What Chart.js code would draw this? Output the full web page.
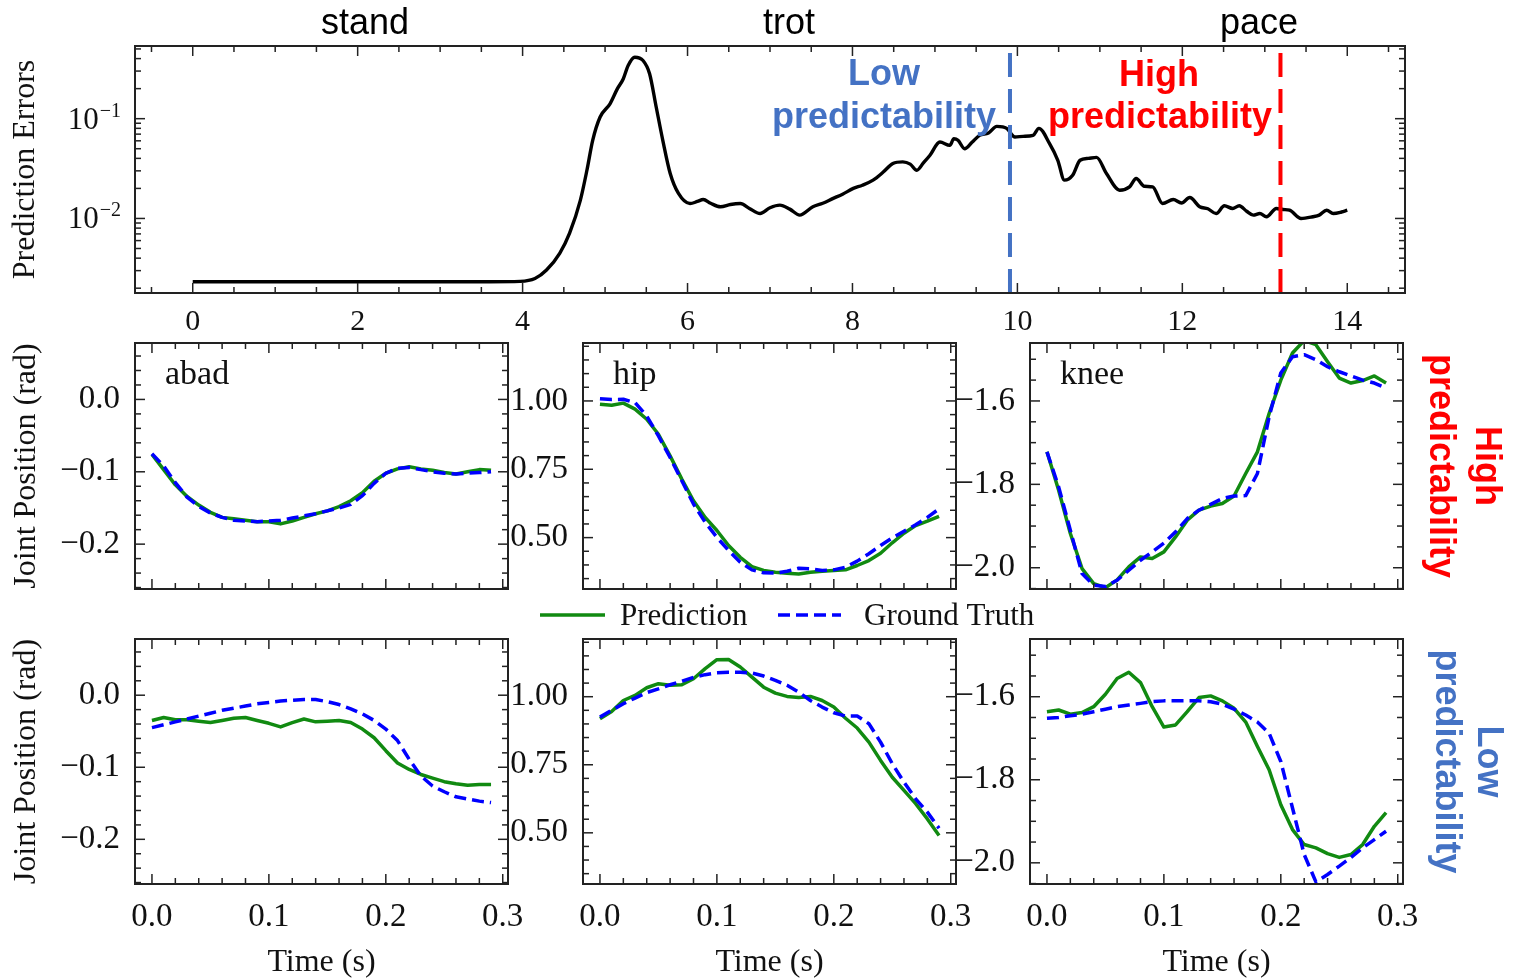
<!DOCTYPE html>
<html>
<head>
<meta charset="utf-8">
<script src="https://cdn.jsdelivr.net/npm/chart.js@4.4.1/dist/chart.umd.min.js"></script>
<style>
  html, body { margin: 0; padding: 0; background: #fff; }
  #fig { position: relative; width: 1524px; height: 979px; overflow: hidden; }
  #fig canvas { position: absolute; }
</style>
</head>
<body>
<div id="fig"></div>
<script>
const SERIF = "'Liberation Serif', 'Times New Roman', serif";
const SANS = "'Liberation Sans', Arial, sans-serif";
const INK = '#111';

// --- Panel superior: error de predicción a lo largo del recorrido ---
const errTime = [0, 1, 2, 3, 3.6, 3.97, 4.15, 4.29, 4.45, 4.57, 4.70, 4.78, 4.85, 4.94, 5.06, 5.15, 5.22, 5.28, 5.36,
  5.46, 5.54, 5.62, 5.70, 5.79, 5.89, 6.03, 6.12, 6.19, 6.28, 6.40, 6.52, 6.64, 6.75, 6.88, 7.0, 7.12, 7.24, 7.36,
  7.52, 7.64, 7.76, 7.88, 8.01, 8.12, 8.25, 8.37, 8.49, 8.61, 8.70, 8.78, 8.86, 8.94, 9.06, 9.18, 9.23, 9.28, 9.36,
  9.45, 9.54, 9.65, 9.75, 9.87, 9.97, 10.07, 10.19, 10.26, 10.39, 10.49, 10.57, 10.67, 10.76, 10.86, 10.96, 11.08,
  11.24, 11.36, 11.44, 11.54, 11.64, 11.76, 11.89, 11.99, 12.09, 12.21, 12.31, 12.41, 12.51, 12.61, 12.69, 12.78,
  12.86, 12.94, 13.02, 13.14, 13.22, 13.30, 13.44, 13.58, 13.66, 13.75, 13.83, 13.93, 14.0];
const errValue = [0.00232, 0.00232, 0.00232, 0.00232, 0.00232, 0.00234, 0.0025, 0.00304, 0.00447, 0.00713, 0.0152,
  0.0304, 0.0607, 0.104, 0.141, 0.2, 0.25, 0.341, 0.413, 0.383, 0.282, 0.131, 0.0607, 0.0282, 0.0178, 0.0141, 0.0148,
  0.0155, 0.0142, 0.0131, 0.0138, 0.0141, 0.0126, 0.0112, 0.0128, 0.0136, 0.0124, 0.0108, 0.0131, 0.0142, 0.0158,
  0.0175, 0.020, 0.0215, 0.0242, 0.029, 0.0355, 0.0369, 0.035, 0.0304, 0.036, 0.043, 0.0583, 0.054, 0.063, 0.0607,
  0.050, 0.058, 0.068, 0.072, 0.0838, 0.080, 0.0655, 0.0665, 0.068, 0.080, 0.0562, 0.0383, 0.0242, 0.0271, 0.0383,
  0.040, 0.0409, 0.0282, 0.0192, 0.0207, 0.0251, 0.021, 0.0207, 0.0141, 0.0155, 0.0143, 0.0162, 0.0131, 0.0125,
  0.0112, 0.0134, 0.0126, 0.0134, 0.0118, 0.0108, 0.0112, 0.0104, 0.0126, 0.0123, 0.0121, 0.0100, 0.0104, 0.0108,
  0.0121, 0.0112, 0.0116, 0.0121];
const errXTicks = [0, 2, 4, 6, 8, 10, 12, 14];
const errYTicks = [0.01, 0.1];
const errXMin = -0.7, errXMax = 14.7;
const errYMin = 0.00179, errYMax = 0.535;
const lowSwitchX = 9.91;   // inicio de baja predictibilidad
const highSwitchX = 13.19; // inicio de alta predictibilidad
const phaseNames = ['stand', 'trot', 'pace'];
const phaseCenters = [2.09, 7.23, 12.93];

// --- Paneles de articulaciones ---
const timeSteps = [0, 0.01, 0.02, 0.03, 0.04, 0.05, 0.06, 0.07, 0.08, 0.09, 0.10, 0.11, 0.12, 0.13, 0.14,
  0.15, 0.16, 0.17, 0.18, 0.19, 0.20, 0.21, 0.22, 0.23, 0.24, 0.25, 0.26, 0.27, 0.28, 0.29];
const timeTicks = [0, 0.1, 0.2, 0.3];
const abadTicks = [0, -0.1, -0.2];
const hipTicks = [1.0, 0.75, 0.5];
const kneeTicks = [-1.6, -1.8, -2.0];

const abadHighPred = [-0.076, -0.097, -0.118, -0.134, -0.146, -0.156, -0.163, -0.165, -0.167, -0.169, -0.169, -0.172,
  -0.168, -0.163, -0.158, -0.154, -0.148, -0.140, -0.129, -0.113, -0.102, -0.096, -0.093, -0.096, -0.098, -0.101,
  -0.103, -0.100, -0.097, -0.098];
const abadHighTrue = [-0.075, -0.092, -0.115, -0.135, -0.148, -0.157, -0.163, -0.167, -0.168, -0.169, -0.168, -0.167,
  -0.164, -0.161, -0.158, -0.154, -0.150, -0.145, -0.133, -0.116, -0.102, -0.095, -0.094, -0.097, -0.100, -0.102,
  -0.103, -0.102, -0.101, -0.100];
const hipHighPred = [0.988, 0.984, 0.992, 0.970, 0.933, 0.878, 0.799, 0.714, 0.635, 0.574, 0.526, 0.471, 0.428, 0.394,
  0.380, 0.373, 0.370, 0.367, 0.373, 0.377, 0.380, 0.382, 0.398, 0.416, 0.443, 0.481, 0.516, 0.544, 0.560, 0.578];
const hipHighTrue = [1.008, 1.005, 1.006, 0.994, 0.945, 0.872, 0.793, 0.708, 0.623, 0.556, 0.501, 0.453, 0.410, 0.382,
  0.371, 0.370, 0.377, 0.388, 0.386, 0.380, 0.382, 0.392, 0.414, 0.441, 0.471, 0.499, 0.523, 0.547, 0.574, 0.605];
const kneeHighPred = [-1.722, -1.814, -1.918, -2.002, -2.038, -2.048, -2.029, -1.998, -1.974, -1.978, -1.962, -1.926,
  -1.886, -1.862, -1.852, -1.846, -1.828, -1.774, -1.722, -1.630, -1.550, -1.485, -1.455, -1.465, -1.506, -1.545,
  -1.557, -1.551, -1.540, -1.557];
const kneeHighTrue = [-1.722, -1.806, -1.910, -2.014, -2.042, -2.045, -2.030, -2.006, -1.982, -1.962, -1.941, -1.914,
  -1.882, -1.862, -1.848, -1.834, -1.828, -1.827, -1.774, -1.638, -1.533, -1.494, -1.489, -1.501, -1.518, -1.530,
  -1.540, -1.550, -1.557, -1.569];

const abadLowPred = [-0.035, -0.031, -0.034, -0.034, -0.036, -0.038, -0.035, -0.032, -0.031, -0.035, -0.039, -0.044,
  -0.038, -0.033, -0.037, -0.036, -0.035, -0.038, -0.047, -0.059, -0.077, -0.094, -0.103, -0.110, -0.115, -0.120,
  -0.123, -0.125, -0.124, -0.124];
const abadLowTrue = [-0.045, -0.041, -0.037, -0.033, -0.029, -0.025, -0.021, -0.018, -0.015, -0.012, -0.010, -0.008,
  -0.007, -0.006, -0.006, -0.009, -0.013, -0.019, -0.026, -0.035, -0.047, -0.063, -0.089, -0.112, -0.126, -0.134,
  -0.141, -0.144, -0.147, -0.149];
const hipLowPred = [0.919, 0.946, 0.986, 1.005, 1.033, 1.048, 1.042, 1.044, 1.066, 1.103, 1.136, 1.137, 1.109, 1.072,
  1.035, 1.013, 1.001, 0.997, 1.001, 0.986, 0.962, 0.921, 0.885, 0.833, 0.766, 0.704, 0.656, 0.607, 0.551, 0.490];
const hipLowTrue = [0.925, 0.950, 0.974, 0.995, 1.015, 1.029, 1.044, 1.057, 1.071, 1.081, 1.088, 1.090, 1.090, 1.087,
  1.076, 1.060, 1.042, 1.017, 0.986, 0.962, 0.941, 0.929, 0.929, 0.901, 0.833, 0.754, 0.686, 0.625, 0.576, 0.517];
const kneeLowPred = [-1.636, -1.632, -1.642, -1.638, -1.624, -1.594, -1.556, -1.541, -1.566, -1.624, -1.673, -1.668,
  -1.636, -1.602, -1.598, -1.610, -1.628, -1.661, -1.720, -1.776, -1.860, -1.920, -1.956, -1.964, -1.978, -1.987,
  -1.980, -1.956, -1.912, -1.879];
const kneeLowTrue = [-1.652, -1.650, -1.646, -1.642, -1.636, -1.630, -1.624, -1.620, -1.616, -1.612, -1.610, -1.610,
  -1.610, -1.610, -1.612, -1.618, -1.630, -1.644, -1.661, -1.688, -1.756, -1.868, -1.980, -2.046, -2.028, -2.008,
  -1.987, -1.964, -1.944, -1.924];

const PRED_COLOR = '#118a11';
const TRUE_COLOR = '#0000ff';
const LOW_COLOR = '#4472c4';
const HIGH_COLOR = '#ff0000';
const LINE_W = 3.5;
const GT_DASH = [12, 6];

// Geometría de la figura (marcos de cada eje, en píxeles de página)
const cols = [
  { l: 135, r: 508, cl: 0, cr: 560 },
  { l: 583, r: 956, cl: 505, cr: 1060 },
  { l: 1030, r: 1403, cl: 952, cr: 1524 }
];
const rows = [
  { t: 343, b: 589, ct: 330, cb: 636 },
  { t: 639, b: 884, ct: 636, cb: 979 }
];

function addCanvas(left, top, width, height) {
  const c = document.createElement('canvas');
  c.width = width; c.height = height;
  c.style.left = left + 'px'; c.style.top = top + 'px';
  c.style.width = width + 'px'; c.style.height = height + 'px';
  document.getElementById('fig').appendChild(c);
  return c;
}

const signed = digits => v => (v < -1e-9 ? '\u2212' : '') + Math.abs(v).toFixed(digits);

function stepValues(min, max, step) {
  const out = [];
  for (let k = Math.ceil(min / step - 1e-9); k * step <= max + 1e-9; k++) out.push(k * step);
  return out;
}
const isMultiple = (v, step) => Math.abs(v / step - Math.round(v / step)) < 1e-6;

// marco cerrado con marcas hacia adentro en los cuatro lados
const framePlugin = {
  id: 'frame',
  afterDatasetsDraw(chart, args, o) {
    const { ctx, chartArea: a } = chart;
    const xs = chart.scales.x, ys = chart.scales.y;
    const seg = (x1, y1, x2, y2) => { ctx.beginPath(); ctx.moveTo(x1, y1); ctx.lineTo(x2, y2); ctx.stroke(); };
    ctx.save();
    ctx.strokeStyle = '#222';
    ctx.lineWidth = 1.5;
    stepValues(xs.min, xs.max, o.xMinor).forEach(v => {
      const len = isMultiple(v, o.xMajor) ? 10 : 6;
      const px = xs.getPixelForValue(v);
      seg(px, a.bottom, px, a.bottom - len);
      seg(px, a.top, px, a.top + len);
    });
    let yMarks = [];
    if (o.log) {
      for (let k = Math.floor(Math.log10(ys.min)); k <= Math.ceil(Math.log10(ys.max)); k++) {
        for (let m = 1; m <= 9; m++) {
          const v = m * Math.pow(10, k);
          if (v >= ys.min && v <= ys.max) yMarks.push([v, m === 1]);
        }
      }
    } else {
      yMarks = stepValues(ys.min, ys.max, o.yMinor).map(v => [v, isMultiple(v, o.yMajor)]);
    }
    yMarks.forEach(([v, major]) => {
      const py = ys.getPixelForValue(v);
      const len = major ? 10 : 6;
      seg(a.left, py, a.left + len, py);
      seg(a.right, py, a.right - len, py);
    });
    ctx.lineWidth = 2;
    ctx.strokeRect(a.left, a.top, a.right - a.left, a.bottom - a.top);
    ctx.restore();
  }
};

function drawText(ctx, text, x, y, font, color, align, angle) {
  ctx.save();
  ctx.translate(x, y);
  if (angle) ctx.rotate(angle);
  ctx.font = font;
  ctx.fillStyle = color;
  ctx.textAlign = align || 'left';
  ctx.textBaseline = 'alphabetic';
  ctx.fillText(text, 0, 0);
  ctx.restore();
}

// --- Gráfico superior ---
(function () {
  const canvas = addCanvas(0, 0, 1524, 345);
  const frame = { l: 135, t: 46, r: 1405, b: 293 };
  const notes = {
    id: 'notes',
    afterDraw(chart) {
      const { ctx, chartArea: a, scales: { x, y } } = chart;
      phaseNames.forEach((name, i) => {
        drawText(ctx, name, x.getPixelForValue(phaseCenters[i]), 34, `36px ${SANS}`, '#000', 'center');
      });
      drawText(ctx, 'Low', 884, 85, `bold 36px ${SANS}`, LOW_COLOR, 'center');
      drawText(ctx, 'predictability', 884, 128, `bold 36px ${SANS}`, LOW_COLOR, 'center');
      drawText(ctx, 'High', 1159, 86, `bold 36px ${SANS}`, HIGH_COLOR, 'center');
      drawText(ctx, 'predictability', 1160, 128, `bold 36px ${SANS}`, HIGH_COLOR, 'center');
      // etiquetas 10^k del eje logarítmico
      errYTicks.forEach(v => {
        const py = y.getPixelForValue(v);
        const exp = signed(0)(Math.round(Math.log10(v)));
        ctx.save();
        ctx.font = `20px ${SERIF}`;
        const ew = ctx.measureText(exp).width;
        ctx.restore();
        const right = a.left - 14;
        drawText(ctx, exp, right - ew, py - 2, `20px ${SERIF}`, INK, 'left');
        drawText(ctx, '10', right - ew - 1, py + 10, `31px ${SERIF}`, INK, 'right');
      });
    }
  };
  new Chart(canvas, {
    type: 'line',
    data: {
      datasets: [{
        data: errTime.map((t, i) => ({ x: t, y: errValue[i] })),
        borderColor: '#000', borderWidth: 3.4, cubicInterpolationMode: 'monotone', order: 2
      }, {
        data: [{ x: lowSwitchX, y: errYMin }, { x: lowSwitchX, y: errYMax }],
        borderColor: LOW_COLOR, borderWidth: 4, borderDash: [24, 12], order: 1
      }, {
        data: [{ x: highSwitchX, y: errYMin }, { x: highSwitchX, y: errYMax }],
        borderColor: HIGH_COLOR, borderWidth: 4, borderDash: [24, 12], order: 1
      }]
    },
    options: {
      responsive: false,
      animation: false,
      layout: { padding: { top: frame.t, right: 1524 - frame.r, left: 0, bottom: 0 }, autoPadding: false },
      elements: { point: { radius: 0 }, line: { borderJoinStyle: 'round' } },
      plugins: {
        legend: { display: false }, tooltip: { enabled: false },
        frame: { xMinor: 0.5, xMajor: 2, log: true }
      },
      scales: {
        x: {
          type: 'linear', min: errXMin, max: errXMax,
          grid: { display: false, drawTicks: false }, border: { display: false },
          afterBuildTicks: s => { s.ticks = errXTicks.map(v => ({ value: v })); },
          afterFit: s => { s.height = 345 - frame.b; s.paddingLeft = 0; s.paddingRight = 0; },
          ticks: { padding: 11, color: INK, font: { family: SERIF, size: 30 }, autoSkip: false, maxRotation: 0,
            callback: v => String(v) }
        },
        y: {
          type: 'logarithmic', min: errYMin, max: errYMax,
          grid: { display: false, drawTicks: false }, border: { display: false },
          ticks: { display: false },
          afterFit: s => { s.width = frame.l; s.paddingTop = 0; s.paddingBottom = 0; },
          title: { display: true, text: 'Prediction Errors', color: INK, font: { family: SERIF, size: 32 },
            padding: { top: 6, bottom: 0 } }
        }
      }
    },
    plugins: [framePlugin, notes]
  });
})();

// --- Paneles de posición articular ---
function jointPanel(row, col, spec) {
  const R = rows[row], C = cols[col];
  const canvas = addCanvas(C.cl, R.ct, C.cr - C.cl, R.cb - R.ct);
  const yW = C.l - C.cl, xH = R.cb - R.b;
  const notes = {
    id: 'notes',
    afterDraw(chart) {
      const { ctx, chartArea: a } = chart;
      if (spec.name) drawText(ctx, spec.name, a.left + 30, a.top + 41, `34px ${SERIF}`, INK, 'left');
      if (spec.legend) {
        const ly = a.bottom + 26;
        ctx.save();
        ctx.lineWidth = LINE_W;
        ctx.strokeStyle = PRED_COLOR;
        ctx.beginPath(); ctx.moveTo(a.left - 43, ly); ctx.lineTo(a.left + 22, ly); ctx.stroke();
        ctx.strokeStyle = TRUE_COLOR;
        ctx.setLineDash(GT_DASH);
        ctx.beginPath(); ctx.moveTo(a.left + 195, ly); ctx.lineTo(a.left + 258, ly); ctx.stroke();
        ctx.restore();
        drawText(ctx, 'Prediction', a.left + 37, ly + 10, `31px ${SERIF}`, INK, 'left');
        drawText(ctx, 'Ground Truth', a.left + 281, ly + 10, `31px ${SERIF}`, INK, 'left');
      }
      if (spec.side) {
        const cy = (a.top + a.bottom) / 2;
        drawText(ctx, spec.side[0], a.right + spec.side[2], cy, `bold 36px ${SANS}`, spec.side[3], 'center', Math.PI / 2);
        drawText(ctx, 'predictability', a.right + spec.side[1], cy, `bold 36px ${SANS}`, spec.side[3], 'center', Math.PI / 2);
      }
    }
  };
  return new Chart(canvas, {
    type: 'line',
    data: {
      datasets: [{
        label: 'Prediction',
        data: timeSteps.map((t, i) => ({ x: t, y: spec.pred[i] })),
        borderColor: PRED_COLOR, borderWidth: LINE_W, order: 2
      }, {
        label: 'Ground Truth',
        data: timeSteps.map((t, i) => ({ x: t, y: spec.truth[i] })),
        borderColor: TRUE_COLOR, borderWidth: LINE_W, borderDash: GT_DASH, order: 1
      }]
    },
    options: {
      responsive: false,
      animation: false,
      layout: { padding: { top: R.t - R.ct, right: C.cr - C.r, left: 0, bottom: 0 }, autoPadding: false },
      elements: { point: { radius: 0 }, line: { tension: 0, borderJoinStyle: 'round' } },
      plugins: {
        legend: { display: false }, tooltip: { enabled: false },
        frame: { xMinor: 0.02, xMajor: 0.1, yMinor: spec.minor, yMajor: spec.major }
      },
      scales: {
        x: {
          type: 'linear', min: -0.0145, max: 0.3045,
          grid: { display: false, drawTicks: false }, border: { display: false },
          afterBuildTicks: s => { s.ticks = timeTicks.map(v => ({ value: v })); },
          afterFit: s => { s.height = xH; s.paddingLeft = 0; s.paddingRight = 0; },
          ticks: { display: row === 1, padding: 14, color: INK, font: { family: SERIF, size: 33 },
            autoSkip: false, maxRotation: 0, callback: signed(1) },
          title: { display: row === 1, text: 'Time (s)', color: INK, font: { family: SERIF, size: 32 },
            padding: { top: 0, bottom: -3 } }
        },
        y: {
          type: 'linear', min: spec.min, max: spec.max,
          grid: { display: false, drawTicks: false }, border: { display: false },
          afterBuildTicks: s => { s.ticks = spec.ticks.map(v => ({ value: v })); },
          afterFit: s => { s.width = yW; s.paddingTop = 0; s.paddingBottom = 0; },
          ticks: { padding: 15, color: INK, font: { family: SERIF, size: 33 }, autoSkip: false,
            callback: signed(spec.digits) },
          title: { display: col === 0, text: 'Joint Position (rad)', color: INK, font: { family: SERIF, size: 32 },
            padding: { top: 7, bottom: 0 } }
        }
      }
    },
    plugins: [framePlugin, notes]
  });
}

const abadAxis = { min: -0.262, max: 0.078, ticks: abadTicks, minor: 0.02, major: 0.1, digits: 1 };
const hipAxis = { min: 0.312, max: 1.212, ticks: hipTicks, minor: 0.05, major: 0.25, digits: 2 };
const kneeAxis = { min: -2.051, max: -1.461, ticks: kneeTicks, minor: 0.05, major: 0.2, digits: 1 };

jointPanel(0, 0, { ...abadAxis, name: 'abad', pred: abadHighPred, truth: abadHighTrue });
jointPanel(0, 1, { ...hipAxis, name: 'hip', pred: hipHighPred, truth: hipHighTrue, legend: true });
jointPanel(0, 2, { ...kneeAxis, name: 'knee', pred: kneeHighPred, truth: kneeHighTrue, side: ['High', 27, 73, HIGH_COLOR] });
jointPanel(1, 0, { ...abadAxis, pred: abadLowPred, truth: abadLowTrue });
jointPanel(1, 1, { ...hipAxis, pred: hipLowPred, truth: hipLowTrue });
jointPanel(1, 2, { ...kneeAxis, pred: kneeLowPred, truth: kneeLowTrue, side: ['Low', 33, 75, LOW_COLOR] });
</script>
</body>
</html>
